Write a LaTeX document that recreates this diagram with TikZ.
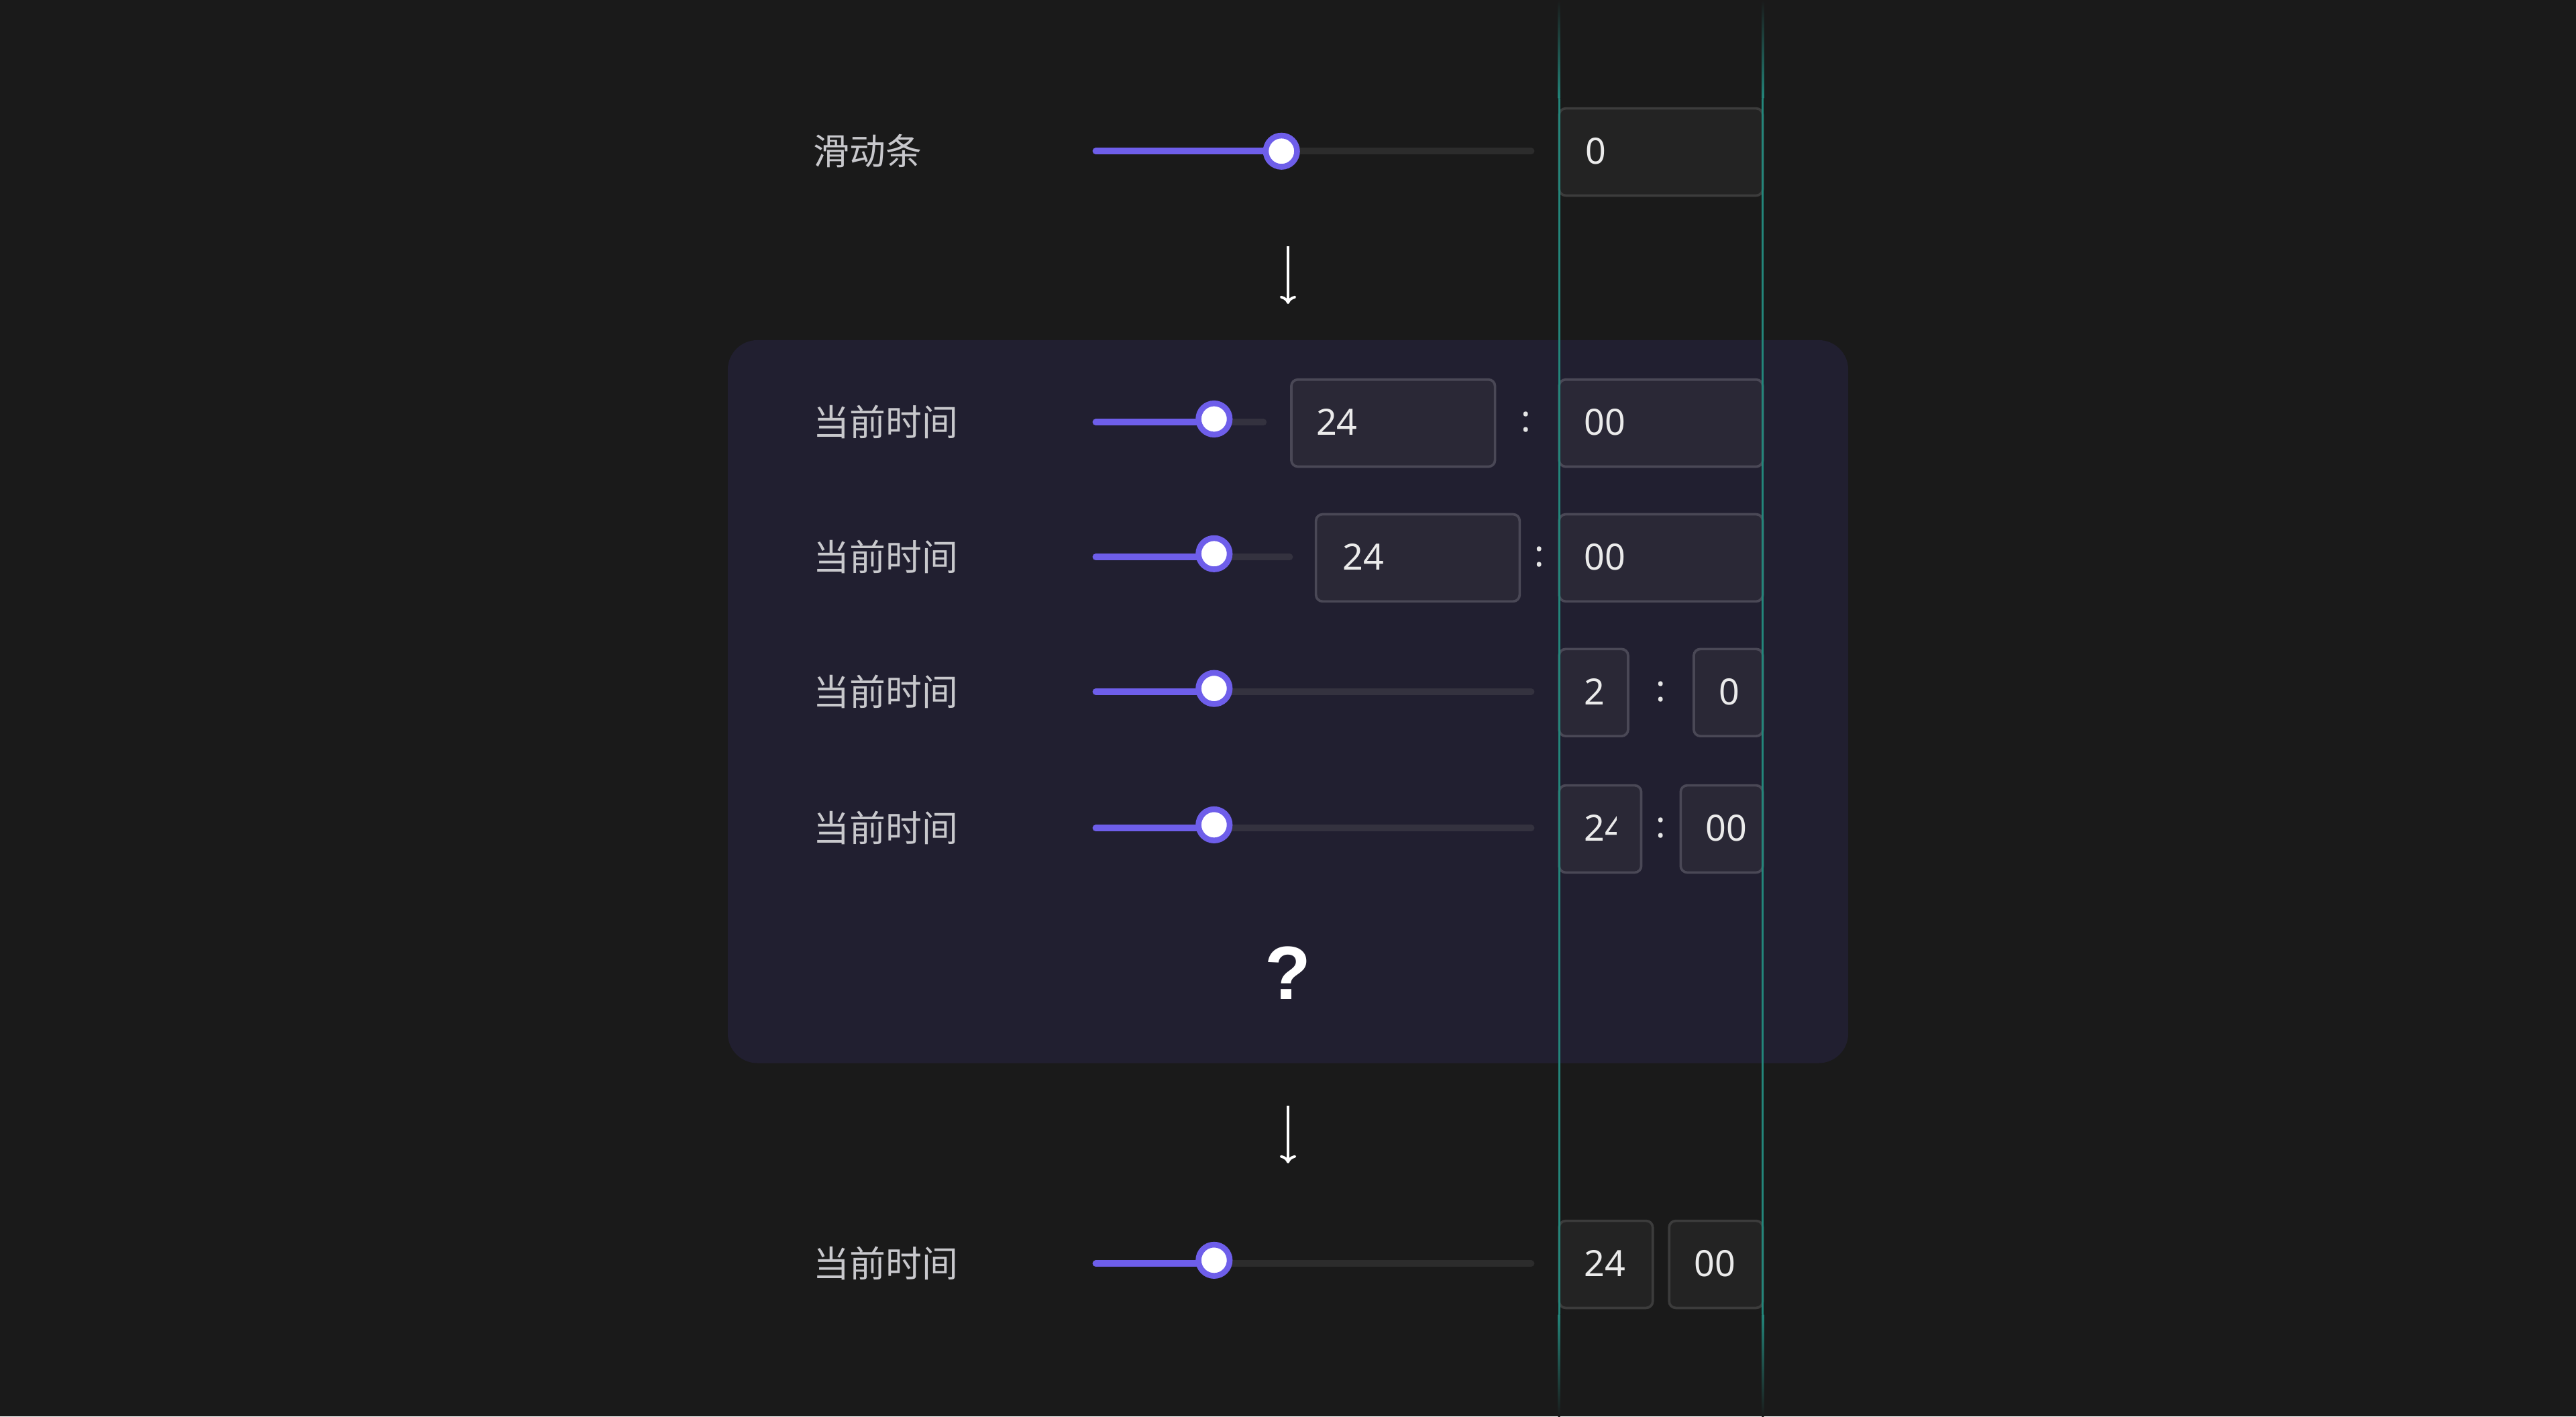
\documentclass[tikz,border=0pt]{standalone}
\usepackage{fontspec}
\usetikzlibrary{arrows.meta}
\setmainfont{Noto Sans}
\newfontfamily\cjk{Noto Sans CJK SC}
\newfontfamily\qfont{Liberation Sans}
\begin{document}
\begin{tikzpicture}[x=1pt,y=-1pt,
  lbl/.style={anchor=west,text=labelgray,font=\cjk\fontsize{22}{24}\selectfont,inner sep=0},
  num/.style={anchor=west,text=white!92!black,font=\fontsize{22}{24}\selectfont,inner sep=0},
  colon/.style={text=white!90!black,font=\fontsize{22}{24}\selectfont,inner sep=0},
  outbox/.style={draw=boxline,fill=boxfill,rounded corners=4pt,line width=1.5pt},
  inbox/.style={draw=pboxline,fill=pboxfill,rounded corners=4pt,line width=1.5pt},
  knob/.style={circle,draw=sliderp,fill=white,line width=3.5pt,minimum size=19pt,inner sep=0},
  track/.style={line width=4pt,line cap=round},
  arr/.style={draw=white,line width=1.6pt,-{To[length=5pt,width=10pt]}}]
\definecolor{bg}{HTML}{1A1A1A}
\definecolor{panel}{HTML}{211F30}
\definecolor{labelgray}{HTML}{C8C8CC}
\definecolor{sliderp}{HTML}{6E5EEA}
\definecolor{trk}{HTML}{2C2C2C}
\definecolor{ptrk}{HTML}{34323F}
\definecolor{boxfill}{HTML}{232323}
\definecolor{boxline}{HTML}{3C3C3C}
\definecolor{pboxfill}{HTML}{2A2836}
\definecolor{pboxline}{HTML}{4A4856}
\definecolor{teal}{HTML}{23857A}
\fill[bg] (0,0) rectangle (1568,862);
\useasboundingbox (0,0) rectangle (1568,862);
\fill[panel,rounded corners=18pt] (443,207) rectangle (1125,647);
% row 1
\node[lbl] (l1) at (495,92) {滑动条};
\draw[track,trk] (667,92) -- (932,92);
\draw[track,sliderp] (667,92) -- (780,92);
\node[knob] (k1) at (780,92) {};
\draw[outbox] (949,66) rectangle (1073,119);
\node[num] (v1) at (965,92) {0};
\coordinate (a1s) at (784,150); \coordinate (a1e) at (784,185);
\draw[arr] (a1s) -- (a1e);
% row 2
\node[lbl] (l2) at (495,257) {当前时间};
\draw[track,ptrk] (667,257) -- (769,257);
\draw[track,sliderp] (667,257) -- (739,257);
\node[knob] (k2) at (739,255) {};
\draw[inbox] (786,231) rectangle (910,284);
\node[num] (v2a) at (801,257) {24};
\node[colon] (c2) at (929,257) {:};
\draw[inbox] (949,231) rectangle (1073,284);
\node[num] (v2b) at (964,257) {00};
% row 3
\node[lbl] (l3) at (495,339) {当前时间};
\draw[track,ptrk] (667,339) -- (785,339);
\draw[track,sliderp] (667,339) -- (739,339);
\node[knob] (k3) at (739,337) {};
\draw[inbox] (801,313) rectangle (925,366);
\node[num] (v3a) at (817,339) {24};
\node[colon] (c3) at (937,339) {:};
\draw[inbox] (949,313) rectangle (1073,366);
\node[num] (v3b) at (964,339) {00};
% row 4
\node[lbl] (l4) at (495,421) {当前时间};
\draw[track,ptrk] (667,421) -- (932,421);
\draw[track,sliderp] (667,421) -- (739,421);
\node[knob] (k4) at (739,419) {};
\draw[inbox] (949,395) rectangle (991,448);
\node[num] (v4a) at (964,421) {2};
\node[colon] (c4) at (1011,421) {:};
\draw[inbox] (1031,395) rectangle (1073,448);
\node[num] (v4b) at (1046,421) {0};
% row 5
\node[lbl] (l5) at (495,504) {当前时间};
\draw[track,ptrk] (667,504) -- (932,504);
\draw[track,sliderp] (667,504) -- (739,504);
\node[knob] (k5) at (739,502) {};
\draw[inbox] (949,478) rectangle (999,531);
\begin{scope}
\clip (950,479) rectangle (984,530);
\node[num] (v5a) at (964,504) {24};
\end{scope}
\node[colon] (c5) at (1011,504) {:};
\draw[inbox] (1023,478) rectangle (1073,531);
\node[num] (v5b) at (1038,504) {00};
\node[text=white,font=\qfont\bfseries\fontsize{46}{48}\selectfont,inner sep=0] (q) at (784,592) {?};
\coordinate (a2s) at (784,673); \coordinate (a2e) at (784,708);
\draw[arr] (a2s) -- (a2e);
% row 6
\node[lbl] (l6) at (495,769) {当前时间};
\draw[track,trk] (667,769) -- (932,769);
\draw[track,sliderp] (667,769) -- (739,769);
\node[knob] (k6) at (739,767) {};
\draw[outbox] (949,743) rectangle (1006,796);
\node[num] (v6a) at (964,769) {24};
\draw[outbox] (1016,743) rectangle (1073,796);
\node[num] (v6b) at (1031,769) {00};
% guides
\foreach \x in {949,1073}{
  \shade[top color=bg,bottom color=teal] (\x-0.6,0) rectangle (\x+0.6,60);
  \fill[teal] (\x-0.6,60) rectangle (\x+0.6,800);
  \shade[top color=teal,bottom color=bg] (\x-0.6,800) rectangle (\x+0.6,862);
}
\end{tikzpicture}
\end{document}
